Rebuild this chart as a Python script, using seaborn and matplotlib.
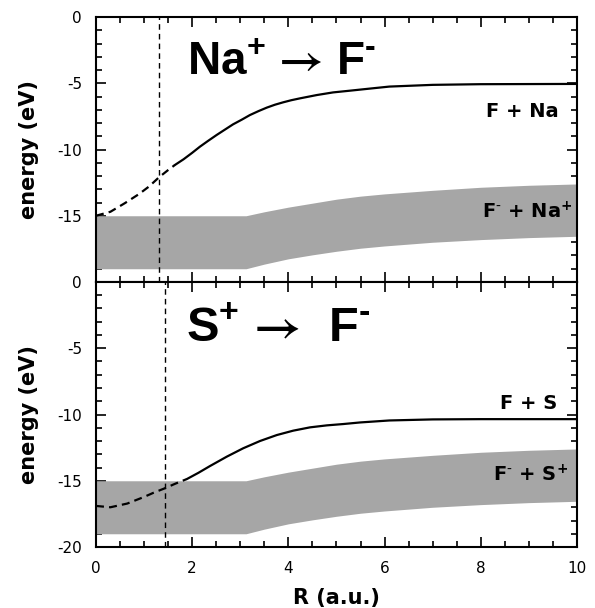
import numpy as np
import pandas as pd
import seaborn as sns
import matplotlib.pyplot as plt
from matplotlib.ticker import MultipleLocator

# F + Na covalent curve (top panel)
r_na = [0.0, 0.3, 0.6, 0.9, 1.1, 1.31, 1.5, 1.64, 1.82, 2.0, 2.16, 2.33,
        2.51, 2.68, 2.85, 3.03, 3.2, 3.38, 3.55, 3.72, 3.89, 4.06, 4.24,
        4.59, 4.93, 5.28, 5.7, 6.1, 7.0, 8.0, 10.0]
e_na = [-15.0, -14.7, -14.05, -13.35, -12.8, -12.1, -11.55, -11.17, -10.74,
        -10.25, -9.79, -9.35, -8.9, -8.5, -8.1, -7.75, -7.4, -7.1, -6.84,
        -6.62, -6.44, -6.28, -6.14, -5.89, -5.69, -5.56, -5.4, -5.25, -5.12,
        -5.07, -5.05]
na_dash_end = 1.64
na_cross = 1.31

# F + S covalent curve (bottom panel)
r_s = [0.0, 0.3, 0.65, 1.0, 1.2, 1.43, 1.65, 1.89, 2.13, 2.37, 2.72, 3.06,
       3.41, 3.76, 4.1, 4.45, 4.8, 5.14, 5.49, 6.1, 7.0, 8.0, 10.0]
e_s = [-16.9, -17.0, -16.72, -16.22, -15.9, -15.57, -15.22, -14.87, -14.4,
       -13.89, -13.18, -12.55, -12.0, -11.55, -11.22, -10.97, -10.82, -10.72,
       -10.6, -10.45, -10.37, -10.35, -10.35]
s_dash_end = 1.89
s_cross = 1.43

# ionic band (F- + X+), same in both panels
band_r = [0.0, 3.12, 3.5, 4.0, 4.5, 5.0, 5.5, 6.0, 7.0, 8.0, 9.0, 10.0]
band_top = [-15.0, -15.0, -14.7, -14.35, -14.05, -13.75, -13.52, -13.35,
            -13.08, -12.85, -12.7, -12.6]
band_bottom = [-19.0, -19.0, -18.65, -18.25, -17.95, -17.68, -17.45, -17.28,
               -17.0, -16.8, -16.65, -16.55]

sns.set_style('ticks')
plt.rcParams['font.family'] = ['DejaVu Sans']
plt.rcParams['axes.unicode_minus'] = False
for key in ['text.color', 'axes.labelcolor', 'xtick.color', 'ytick.color',
            'axes.edgecolor']:
    plt.rcParams[key] = 'black'
plt.rcParams['mathtext.fontset'] = 'custom'
plt.rcParams['mathtext.rm'] = 'Liberation Sans:bold'
plt.rcParams['mathtext.bf'] = 'Liberation Sans:bold'
plt.rcParams['mathtext.sf'] = 'STIXGeneral:bold'


def draw_panel(ax, r, e, dash_end, cross):
    df = pd.DataFrame({'R': r, 'E': e})
    ax.fill_between(band_r, band_bottom, band_top, color='#a6a6a6', lw=0,
                    zorder=1)
    sns.lineplot(data=df[df.R <= dash_end], x='R', y='E', color='black',
                 lw=1.6, linestyle=(0, (3.6, 2.3)), errorbar=None, ax=ax,
                 zorder=3)
    sns.lineplot(data=df[df.R >= dash_end], x='R', y='E', color='black',
                 lw=1.6, errorbar=None, ax=ax, zorder=3)
    ax.axvline(cross, color='black', lw=1.0, linestyle=(0, (4, 3)), zorder=2)

    ax.set_xlim(0, 10)
    ax.set_ylim(-20, 0)
    ax.xaxis.set_major_locator(MultipleLocator(2))
    ax.xaxis.set_minor_locator(MultipleLocator(0.5))
    ax.yaxis.set_major_locator(MultipleLocator(5))
    ax.yaxis.set_minor_locator(MultipleLocator(1))
    ax.tick_params(which='both', direction='in', top=True, right=True,
                   width=1.2, labelsize=11, pad=10)
    ax.tick_params(which='major', length=7)
    ax.tick_params(which='minor', length=4)
    for sp in ax.spines.values():
        sp.set_linewidth(1.5)
    ax.set_ylabel('energy (eV)', fontsize=15, fontweight='bold')
    ax.yaxis.set_label_coords(-0.1185, 0.5)


fig = plt.figure(figsize=(5.95, 6.08), dpi=100)
ax1 = fig.add_axes([0.1613, 0.5362, 0.8084, 0.4358])
ax2 = fig.add_axes([0.1613, 0.1003, 0.8084, 0.4359])

draw_panel(ax1, r_na, e_na, na_dash_end, na_cross)
draw_panel(ax2, r_s, e_s, s_dash_end, s_cross)

ax1.set_xlabel('')
ax1.tick_params(labelbottom=False)
ax1.set_yticks([-20, -15, -10, -5, 0])
ax1.set_yticklabels(['', '-15', '-10', '-5', '0'])

ax2.set_xlabel('R (a.u.)', fontsize=15, fontweight='bold')
ax2.xaxis.set_label_coords(0.5, -0.155)

ax1.text(1.9, -4.4, r'Na$^{+}$ $\mathsf{→}$ F$^{\text{-}}$', fontsize=33,
         fontweight='bold', family='Liberation Sans', math_fontfamily='custom')
ax2.text(1.88, -4.5, r'S$^{+}$ $\mathsf{→}$  F$^{\text{-}}$', fontsize=35,
         fontweight='bold', family='Liberation Sans', math_fontfamily='custom')

ax1.text(9.61, -7.52, 'F + Na', ha='right', fontsize=14, fontweight='bold')
ax1.text(9.9, -15.2, r'F$^\text{-}$ + Na$^\mathbf{+}$', ha='right',
         fontsize=14, fontweight='bold', math_fontfamily='dejavusans')
ax2.text(9.6, -9.58, 'F + S', ha='right', fontsize=14, fontweight='bold')
ax2.text(9.81, -15.07, r'F$^\text{-}$ + S$^\mathbf{+}$', ha='right',
         fontsize=14, fontweight='bold', math_fontfamily='dejavusans')

plt.savefig('out.png', dpi=100)
